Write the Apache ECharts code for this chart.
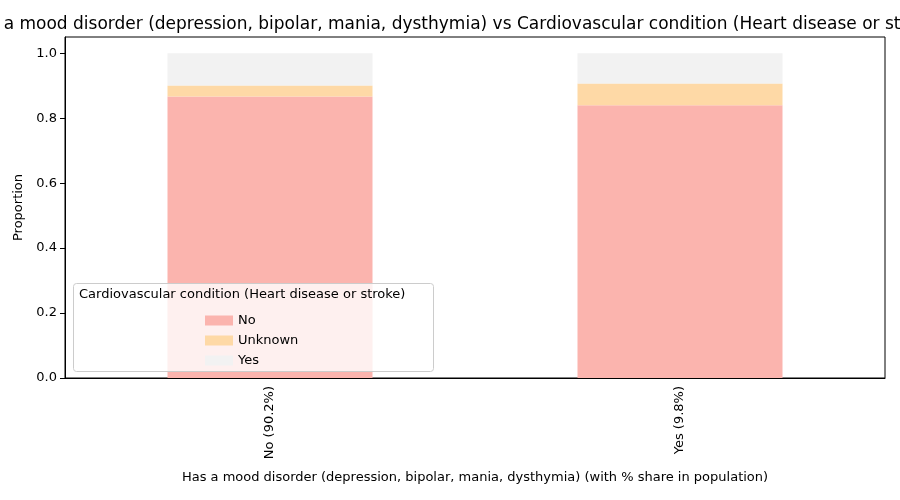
<!DOCTYPE html>
<html>
<head>
<meta charset="utf-8">
<script src="https://cdn.jsdelivr.net/npm/echarts@6/dist/echarts.min.js"></script>
<style>
	html, body { margin: 0; padding: 0; background: #fff; }
	#chart { width: 900px; height: 500px; }
</style>
</head>
<body>
<div id="chart"></div>
<script>
	// 数据
	var categories = ['No (90.2%)', 'Yes (9.8%)'];
	var seriesNames = ['No', 'Unknown', 'Yes'];
	var valNo = [0.867, 0.840];
	var valUnknown = [0.034, 0.067];
	var valYes = [0.099, 0.093];
	var colors = ['#fbb4ae', '#fed9a6', '#f2f2f2'];

	var font = 'DejaVu Sans';
	var chart = echarts.init(document.getElementById('chart'));
	var values = [valNo, valUnknown, valYes];

	chart.setOption({
		animation: false,
		textStyle: { fontFamily: font },
		title: {
			text: 'Has a mood disorder (depression, bipolar, mania, dysthymia) vs Cardiovascular condition (Heart disease or stroke)',
			left: 450, top: 11, textAlign: 'center',
			textStyle: { fontSize: 17, fontWeight: 'normal', color: '#000', fontFamily: font }
		},
		// 外框
		grid: { left: 65, right: 15, top: 37, bottom: 122, show: true, borderColor: '#000', borderWidth: 1 },
		xAxis: {
			type: 'category', data: categories,
			name: 'Has a mood disorder (depression, bipolar, mania, dysthymia) (with % share in population)',
			nameLocation: 'middle', nameGap: 93,
			nameTextStyle: { fontSize: 13, color: '#000' },
			axisLine: { onZero: false, lineStyle: { color: '#000' } },
			axisTick: { alignWithLabel: true, lineStyle: { color: '#000' } },
			axisLabel: { rotate: 90, fontSize: 13, color: '#000' }
		},
		yAxis: {
			type: 'value', min: 0, max: 1.05, interval: 0.2,
			name: 'Proportion', nameLocation: 'middle', nameGap: 40,
			nameTextStyle: { fontSize: 13, color: '#000' },
			axisLine: { show: true, lineStyle: { color: '#000' } },
			axisTick: { show: true, lineStyle: { color: '#000' } },
			splitLine: { show: false },
			axisLabel: {
				fontSize: 13, color: '#000', showMaxLabel: false,
				formatter: function (v) { return v.toFixed(1); }
			}
		},
		legend: {
			orient: 'vertical', left: 200, top: 309, itemGap: 7,
			itemWidth: 28, itemHeight: 10, z: 20, icon: 'rect',
			textStyle: { fontSize: 13, color: '#000' },
			data: seriesNames
		},
		graphic: [
			{ type: 'rect', left: 73, top: 283, z: 15,
				shape: { width: 360, height: 88, r: 3 },
				style: { fill: 'rgba(255,255,255,0.8)', stroke: '#ccc' } },
			{ type: 'text', left: 79, top: 288, z: 16,
				style: { text: 'Cardiovascular condition (Heart disease or stroke)', fontSize: 13, fill: '#000', fontFamily: font } }
		],
		series: seriesNames.map(function (n, i) {
			return {
				name: n, type: 'bar', stack: 'all', barWidth: '50%',
				itemStyle: { color: colors[i] }, data: values[i]
			};
		})
	});
</script>
</body>
</html>
